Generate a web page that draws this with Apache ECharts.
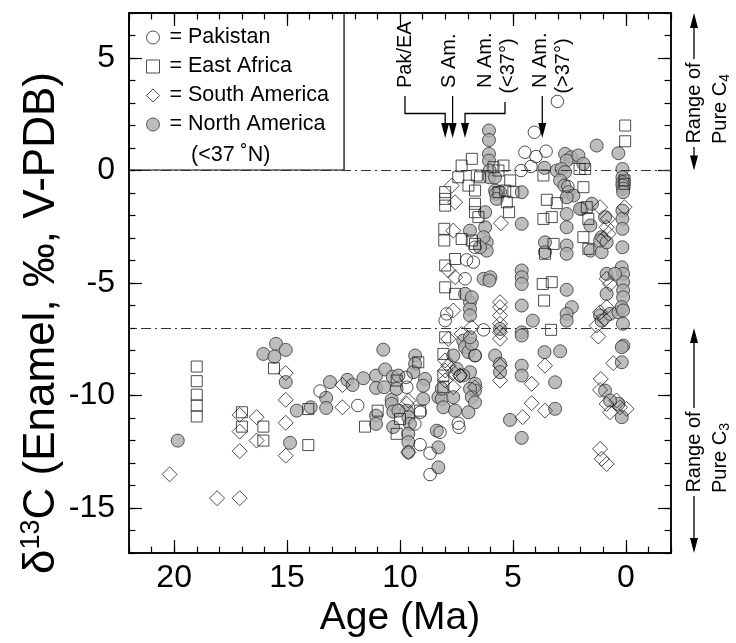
<!DOCTYPE html>
<html><head><meta charset="utf-8">
<script src="https://cdn.jsdelivr.net/npm/echarts@6/dist/echarts.min.js"></script>
<style>html,body{margin:0;padding:0;background:#fff}#c{width:736px;height:643px}</style>
</head><body><div id="c"></div>
<script>
// ---- data: [age (Ma), d13C (permil)] ----
const pakistan = [[3.03,3.07],[4.05,1.70],[4.47,0.81],[3.98,0.62],[3.53,0.86],[4.20,0.18],[4.64,0.00],[2.57,-0.71],[6.68,-3.41],[7.05,-3.97],[6.75,-4.07],[7.12,-4.81],[7.93,-6.37],[8.00,-6.67],[6.30,-7.08],[6.67,-8.22],[7.34,-9.11],[9.70,-9.63],[9.73,-9.19],[9.10,-10.74],[9.34,-11.26],[7.42,-11.23],[7.39,-11.41],[8.23,-11.63],[9.11,-12.18],[8.67,-12.56],[8.67,-13.51],[13.54,-9.80],[11.87,-10.44]];
const eastAfrica = [[19.0,-8.71],[19.0,-9.36],[19.0,-9.96],[19.0,-10.44],[19.0,-10.93],[17.0,-10.74],[17.0,-11.38],[16.05,-11.38],[16.05,-12.0],[15.58,-8.79],[14.06,-10.6],[14.06,-12.2],[11.55,-11.38],[10.99,-10.67],[10.15,-9.33],[10.15,-11.7],[9.19,-8.52],[9.11,-10.67],[10.0,-11.04],[8.0,-7.41],[8.08,-8.15],[8.08,-9.11],[8.08,-9.63],[3.62,-5.78],[3.31,-7.08],[6.82,0.52],[7.27,0.22],[7.42,-0.3],[6.97,-0.67],[6.6,-0.22],[6.46,-0.3],[8.0,-0.96],[8.0,-1.26],[8.0,-1.56],[6.68,-0.89],[6.68,-1.48],[6.68,-1.85],[6.53,-2.07],[8.04,-2.59],[8.04,-3.11],[7.27,-3.04],[6.82,-3.11],[6.68,-3.26],[7.56,-3.93],[8.0,-4.22],[8.0,-5.19],[7.56,-5.48],[5.42,0.22],[5.64,0.0],[5.86,0.15],[5.12,-0.44],[5.34,-0.89],[5.64,-0.96],[4.98,-0.96],[5.27,-1.41],[5.17,-1.85],[3.65,-0.22],[3.5,-1.3],[3.06,-1.45],[3.65,-2.15],[3.28,-2.07],[3.2,-3.26],[3.58,-3.7],[3.68,-5.04],[3.28,-4.96],[2.05,0.07],[1.8,0.07],[1.88,-0.74],[1.88,-2.96],[1.66,-3.48],[0.03,2.0],[0.03,1.3],[0.06,-0.44],[0.06,-0.59],[1.73,-1.63],[1.66,-2.15]];
const southAmerica = [[20.2,-13.5],[18.1,-14.56],[17.1,-14.56],[17.1,-10.86],[17.1,-11.6],[17.1,-12.47],[16.35,-10.96],[16.35,-12.0],[15.06,-9.0],[15.06,-10.19],[15.06,-11.21],[15.06,-12.67],[12.55,-10.52],[12.55,-9.53],[7.71,-0.67],[7.56,-1.41],[7.64,-2.67],[7.86,-4.44],[7.56,-4.74],[5.53,-2.34],[7.64,-6.22],[6.82,-6.96],[7.86,-7.48],[7.27,-7.26],[8.0,-8.44],[8.0,-8.89],[7.86,-8.67],[7.64,-8.96],[7.34,-9.11],[8.0,-9.33],[7.64,-9.63],[9.63,-10.22],[9.7,-10.37],[9.63,-12.52],[6.68,-9.63],[5.57,-5.85],[5.57,-6.07],[5.57,-6.44],[5.57,-6.81],[5.57,-7.19],[5.57,-7.48],[5.57,-8.67],[5.57,-9.33],[3.58,-8.67],[4.17,-9.48],[4.17,-10.34],[3.58,-10.67],[4.57,-10.96],[0.85,-6.07],[1.14,-6.3],[0.95,-6.6],[1.29,-6.89],[1.22,-7.38],[0.56,-8.56],[1.11,-9.26],[1.14,-9.75],[0.85,-10.37],[0.7,-10.74],[0.41,-10.22],[-0.03,-10.59],[0.26,-10.52],[1.14,-12.37],[1.07,-12.81],[0.85,-13.04],[1.14,-1.63],[0.06,-1.63],[0.8,-2.15],[0.85,-2.52],[0.77,-2.81],[1.0,-3.04],[0.85,-4.81],[0.7,-5.04]];
const northAmerica = [[19.84,-12.0],[16.05,-8.15],[15.49,-7.7],[15.56,-8.27],[15.06,-7.97],[15.06,-9.4],[14.87,-12.1],[14.57,-10.67],[13.95,-10.52],[13.27,-10.1],[13.27,-10.55],[13.1,-9.4],[12.33,-9.3],[12.1,-9.53],[11.62,-9.23],[11.06,-9.11],[11.06,-9.66],[11.06,-10.89],[11.06,-11.26],[10.74,-7.96],[10.66,-8.84],[10.7,-9.63],[10.32,-9.16],[10.37,-10.19],[10.37,-10.37],[10.3,-10.71],[10.3,-11.4],
[9.33,-8.22],[9.33,-8.59],[9.41,-8.96],[8.89,-9.26],[8.97,-9.56],[8.97,-10.15],[9.7,-10.67],[9.63,-10.96],[9.56,-11.26],[9.63,-11.7],[9.63,-12.07],[9.63,-12.52],[8.3,-12.3],[8.3,-13.19],[8.37,-11.56],[10.07,-9.11],[10.15,-9.7],[10.07,-10.67],
[6.9,-5.85],[6.9,-6.15],[6.9,-6.44],[7.2,-7.56],[7.12,-7.85],[6.97,-8.07],[6.68,-8.22],[6.82,-7.7],[7.64,-8.22],[6.9,-8.96],[6.68,-9.48],[6.68,-9.78],[6.9,-9.7],[6.82,-10.07],[6.68,-10.3],[8.3,-10.07],[8.15,-10.15],[8.08,-10.52],[7.64,-10.07],[7.56,-10.67],[6.97,-10.74],[8.15,-9.7],[7.49,-8.81],[7.2,-9.11],[6.9,-7.41],[7.12,-5.48],[6.82,-5.63],[6.3,-4.81],
[6.06,1.78],[6.06,1.36],[6.06,0.74],[6.06,0.44],[6.03,0.0],[6.04,-0.3],[5.79,-0.3],[5.79,-0.89],[5.57,-0.96],[5.75,-1.04],[5.72,-1.26],[4.61,-0.96],[4.61,-2.37],[6.23,-1.85],[6.23,-2.52],[6.16,-3.19],[6.16,-3.56],[6.3,-2.96],[6.46,-3.41],[6.9,-2.67],[6.0,-4.74],[6.04,-4.89],
[4.61,-4.44],[4.61,-4.74],[4.61,-5.04],[4.61,-6.0],[4.12,-6.67],[4.61,-7.19],[4.61,-7.33],[5.57,-7.04],[5.79,-8.22],[5.57,-8.59],[5.57,-8.96],[4.61,-8.67],[4.61,-9.11],[3.6,-8.07],[2.91,-8.03],[3.13,-9.41],[3.13,-10.59],[5.13,-11.08],[4.61,-11.88],[2.62,-5.3],[2.39,-6.07],[2.62,-6.37],[2.62,-6.67],
[3.6,0.12],[2.69,0.74],[2.42,0.59],[2.62,0.44],[3.06,0.0],[2.84,0.07],[2.69,-0.07],[2.91,-0.44],[2.72,-0.67],[2.54,-0.96],[2.32,-1.11],[2.62,-1.19],[2.1,0.67],[1.95,-1.7],[2.62,-1.93],[2.62,-2.52],[3.58,-3.19],[3.58,-3.63],[2.62,-3.33],[2.62,-3.7],[1.88,0.3],[1.29,1.11],[0.33,0.77],
[0.15,0.07],[0.15,-0.3],[0.15,-0.52],[0.15,-0.67],[0.12,-0.81],[0.12,-0.96],[0.15,-1.78],[0.15,-2.15],[0.15,-2.59],[0.15,-3.41],[0.18,-4.3],[0.12,-4.59],[0.12,-4.96],[0.12,-5.33],[0.12,-5.63],
[1.5,-1.48],[1.57,-2.44],[1.57,-3.56],[1.07,-3.63],[0.92,-2.07],[1.07,-2.96],[0.85,-4.59],[0.48,-4.59],[0.85,-5.48],[1.14,-3.11],[0.85,-3.19],[2.03,-1.7],
[1.14,-6.44],[1.07,-6.67],[0.7,-6.37],[0.33,-6.3],[0.18,-6.07],[0.13,-6.81],[0.11,-7.78],[0.18,-7.85],[0.18,-8.52],[0.92,-9.78],[0.33,-10.37],[0.18,-10.96],[0.7,-10.22],[0.12,-6.22]];

const seriesNames = ['Pakistan', 'East Africa', 'South America', 'North America'];
const xMajorTicks = [20, 15, 10, 5, 0];
const xMinorTicks = [22,21,20,19,18,17,16,15,14,13,12,11,10,9,8,7,6,5,4,3,2,1,0,-1,-2];
const yMajorTicks = [-15, -10, -5, 0, 5];
const yMinorTicks = [-17,-16,-15,-14,-13,-12,-11,-10,-9,-8,-7,-6,-5,-4,-3,-2,-1,0,1,2,3,4,5,6,7];
const refLines = [0, -7];               // pure C4 / pure C3 limits
const c4Range = [0, 7];
const c3Range = [-17, -7];
const onsetAges = [8.0, 7.67, 7.12, 3.7]; // Pak/EA, S Am., N Am.(<37), N Am.(>37)

const FONT = '"Liberation Sans", Arial, Helvetica, sans-serif';
const chart = echarts.init(document.getElementById('c'), null, {renderer: 'canvas'});

function mkX(pos, ticks, len, labels, extra) {
  return Object.assign({
    type: 'value', position: pos, min: -2, max: 22, inverse: true, gridIndex: 0,
    axisLine: {show: true, onZero: false, lineStyle: {color: '#000', width: 1.5}},
    axisTick: {show: true, inside: true, length: len, customValues: ticks, lineStyle: {color: '#000', width: 1.2}},
    axisLabel: labels ? {show: true, customValues: xMajorTicks, fontSize: 32, color: '#000', margin: 9, fontFamily: FONT} : {show: false},
    splitLine: {show: false}
  }, extra || {});
}
function mkY(pos, ticks, len, labels, extra) {
  return Object.assign({
    type: 'value', position: pos, min: -17, max: 7, gridIndex: 0,
    axisLine: {show: true, onZero: false, lineStyle: {color: '#000', width: 1.5}},
    axisTick: {show: true, inside: true, length: len, customValues: ticks, lineStyle: {color: '#000', width: 1.2}},
    axisLabel: labels ? {show: true, customValues: yMajorTicks, fontSize: 32, color: '#000', margin: 14, fontFamily: FONT} : {show: false},
    splitLine: {show: false}
  }, extra || {});
}

const openStyle = {color: 'rgba(255,255,255,0)', borderColor: '#222', borderWidth: 1};
const grayStyle = {color: '#adadad', borderColor: '#333', borderWidth: 1};

const option = {
  animation: false,
  backgroundColor: '#fff',
  textStyle: {fontFamily: FONT},
  grid: {left: 129, right: 65, top: 13, bottom: 89, containLabel: false},
  xAxis: [
    mkX('bottom', xMajorTicks, 13, true, {
      name: 'Age (Ma)', nameLocation: 'middle', nameGap: 44,
      nameTextStyle: {fontSize: 39, color: '#000', fontFamily: FONT}
    }),
    mkX('bottom', xMinorTicks, 6.5, false),
    mkX('top', xMajorTicks, 13, false),
    mkX('top', xMinorTicks, 6.5, false)
  ],
  yAxis: [
    mkY('left', yMajorTicks, 13, true),
    mkY('left', yMinorTicks, 6.5, false),
    mkY('right', yMajorTicks, 13, false),
    mkY('right', yMinorTicks, 6.5, false)
  ],
  legend: {
    orient: 'vertical', left: 129, top: 13,
    padding: [10, 15, 31, 17],
    itemWidth: 13, itemHeight: 13, itemGap: 0,
    borderColor: '#000', borderWidth: 1.2, backgroundColor: 'rgba(0,0,0,0)',
    selectedMode: false,
    formatter: n => '= ' + n,
    textStyle: {fontSize: 21.5, lineHeight: 29, color: '#000', fontFamily: FONT, padding: [0, 0, 0, 5]},
    data: [
      {name: 'Pakistan', icon: 'circle', itemStyle: openStyle},
      {name: 'East Africa', icon: 'rect', itemStyle: openStyle},
      {name: 'South America', icon: 'diamond', itemStyle: openStyle},
      {name: 'North America', icon: 'circle', itemStyle: grayStyle}
    ]
  },
  series: [
    {name: seriesNames[3], type: 'scatter', xAxisIndex: 0, yAxisIndex: 0, data: northAmerica,
     symbol: 'circle', symbolSize: 13, itemStyle: grayStyle, emphasis: {disabled: true},
     markLine: {silent: true, symbol: 'none', label: {show: false},
       lineStyle: {type: [10, 4, 2, 4], color: '#333', width: 1},
       data: refLines.map(v => ({yAxis: v}))}},
    {name: seriesNames[0], type: 'scatter', xAxisIndex: 0, yAxisIndex: 0, data: pakistan,
     symbol: 'circle', symbolSize: 12.5, itemStyle: openStyle, emphasis: {disabled: true}},
    {name: seriesNames[1], type: 'scatter', xAxisIndex: 0, yAxisIndex: 0, data: eastAfrica,
     symbol: 'rect', symbolSize: 11, itemStyle: openStyle, emphasis: {disabled: true}},
    {name: seriesNames[2], type: 'scatter', xAxisIndex: 0, yAxisIndex: 0, data: southAmerica,
     symbol: 'diamond', symbolSize: 15, itemStyle: openStyle, emphasis: {disabled: true}}
  ]
};
chart.setOption(option);

// ---- annotations (positions derived from axes where they refer to values) ----
const P = (a, v) => chart.convertToPixel({xAxisIndex: 0, yAxisIndex: 0}, [a, v]);
const g = [];
const LINE = {stroke: '#000', lineWidth: 1.3, fill: null};
function vtext(x, y, text, align, rich, size) {
  g.push({type: 'text', x: x, y: y, rotation: Math.PI / 2, z: 100,
    style: {text: text, fontSize: size || 20, fontFamily: FONT, fill: '#000', align: align, verticalAlign: 'middle', rich: rich}});
}
function head(x, yTip, dir) { // dir 1 = down, -1 = up
  g.push({type: 'polygon', z: 100, shape: {points: [[x - 4, yTip - 15 * dir], [x + 4, yTip - 15 * dir], [x, yTip]]}, style: {fill: '#000'}});
}
function line(pts) { g.push({type: 'polyline', z: 100, shape: {points: pts}, style: LINE}); }

// y axis title
const yMid = 323;
vtext(42, yMid, '{a|δ}{b|13}{a|C (Enamel, ‰, V-PDB)}', 'center',
  {a: {fontSize: 44, fontFamily: FONT, fill: '#000', lineHeight: 48},
   b: {fontSize: 27, fontFamily: FONT, fill: '#000', verticalAlign: 'top', lineHeight: 27}}, 44);

const xs = onsetAges.map(a => P(a, 0)[0]);
const yBar = 113.5, yTip = 138;
vtext(405, 88, 'Pak/EA', 'left');
line([[405, 96], [405, yBar], [xs[0], yBar], [xs[0], yTip - 10]]); head(xs[0], yTip, 1);
vtext(449.5, 88, 'S Am.', 'left');
line([[xs[1], 96], [xs[1], yTip - 10]]); head(xs[1], yTip, 1);
vtext(485, 88, 'N Am.', 'left');
vtext(508, 66, '(<37°)', 'center');
line([[505, 102], [505, yBar], [xs[2], yBar], [xs[2], yTip - 10]]); head(xs[2], yTip, 1);
vtext(540, 88, 'N Am.', 'left');
vtext(563, 66, '(>37°)', 'center');
line([[xs[3], 96], [xs[3], yTip - 10]]); head(xs[3], yTip, 1);

// legend second line
g.push({type: 'text', x: 191, y: 155, z: 100, style: {text: '(<37 ˚N)', fontSize: 21.5, fontFamily: FONT, fill: '#000', align: 'left', verticalAlign: 'middle'}});

// right-hand range brackets
function rangeNote(range, sub, midY) {
  const yTop = P(0, range[1])[1], yBot = P(0, range[0])[1];
  const xr = 694;
  vtext(xr, midY, 'Range of', 'center');
  vtext(720, midY + 6, '{a|Pure C}{s|' + sub + '}', 'center',
    {a: {fontSize: 20, fontFamily: FONT, fill: '#000', lineHeight: 24}, s: {fontSize: 14, fontFamily: FONT, fill: '#000', verticalAlign: 'bottom', lineHeight: 14}});
  line([[xr, midY - 44], [xr, yTop + 10]]); head(xr, yTop, -1);
  line([[xr, midY + 44], [xr, yBot - 10]]); head(xr, yBot, 1);
}
rangeNote(c4Range, '4', 103);
rangeNote(c3Range, '3', 452);

chart.setOption({graphic: {elements: g}});
</script></body></html>
